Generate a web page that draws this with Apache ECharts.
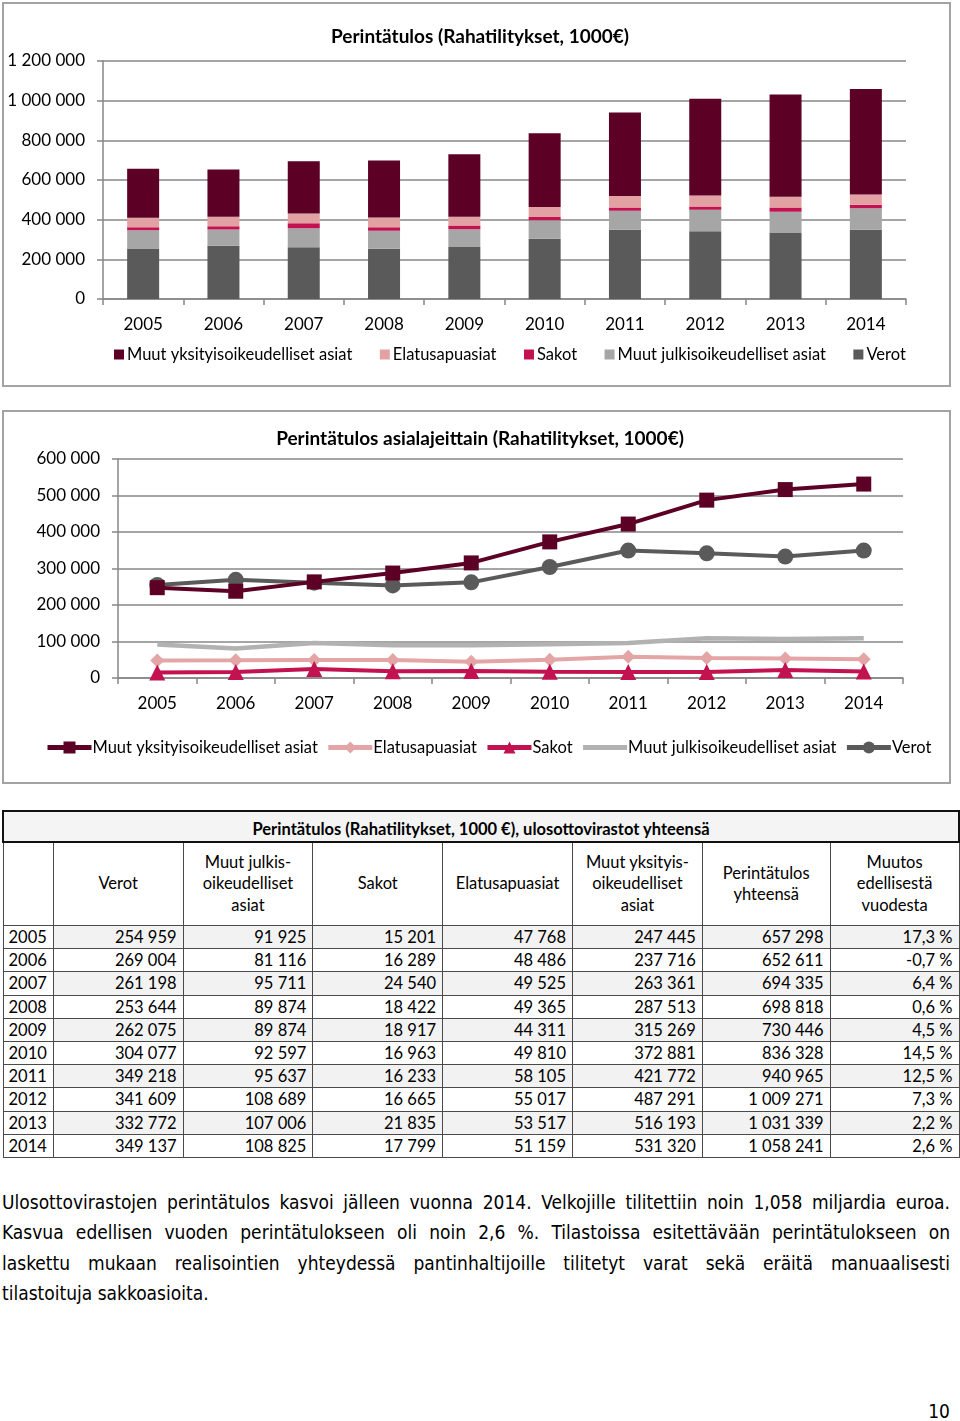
<!DOCTYPE html>
<html>
<head>
<meta charset="utf-8">
<script src="https://cdn.jsdelivr.net/npm/echarts@6/dist/echarts.min.js"></script>
<style>
  html, body { margin:0; padding:0; background:#fff; }
  body { width:960px; height:1421px; position:relative; overflow:hidden; font-family: Lato, "Open Sans", sans-serif; color:#000; }
  .box { position:absolute; border:2px solid #a3a3a3; box-sizing:border-box; }
  .chart { position:absolute; left:0; width:960px; height:400px; }
  table { position:absolute; left:2px; top:810px; border-collapse:collapse; table-layout:fixed; font-family: Lato, sans-serif; font-size:16.5px; }
  td { border:1px solid #4a4a4a; padding:0 6px; white-space:nowrap; }
  td.title { border:2px solid #111; background:#f4f4f4; font-weight:bold; text-align:center; height:24px; line-height:24px; padding:5px 0 0 0; }
  td.hdr { text-align:center; height:82px; line-height:21.5px; white-space:normal; padding:0 2px; }
  td.num { text-align:right; height:22.2px; line-height:22px; }
  td.yr { text-align:left; padding-left:5px; }
  tr.odd td.num { background:#f2f2f2; }
  .para { position:absolute; left:2px; width:948px; top:1189px; font-family:"Liberation Sans Narrow","DejaVu Sans Condensed",Lato,sans-serif; font-size:19px; }
  .para div { height:30.3px; line-height:26px; text-align:justify; text-align-last:justify; white-space:nowrap; }
  .para div.last { text-align-last:left; }
  .pnum { position:absolute; right:10px; top:1400px; font-family:"Liberation Sans Narrow","DejaVu Sans Condensed",Lato,sans-serif; font-size:19px; }
</style>
</head>
<body>
<div class="box" style="left:2px;top:2px;width:949px;height:385px;"></div>
<div class="box" style="left:2px;top:410px;width:949px;height:374px;"></div>
<div id="c1" class="chart" style="top:0px;"></div>
<div id="c2" class="chart" style="top:400px;"></div>
<table id="tbl"></table>
<div class="para">
  <div>Ulosottovirastojen perintätulos kasvoi jälleen vuonna 2014. Velkojille tilitettiin noin 1,058 miljardia euroa.</div>
  <div>Kasvua edellisen vuoden perintätulokseen oli noin 2,6 %. Tilastoissa esitettävään perintätulokseen on</div>
  <div>laskettu mukaan realisointien yhteydessä pantinhaltijoille tilitetyt varat sekä eräitä manuaalisesti</div>
  <div class="last">tilastoituja sakkoasioita.</div>
</div>
<div class="pnum">10</div>
<script>
const years = ['2005','2006','2007','2008','2009','2010','2011','2012','2013','2014'];
const verot = [254959,269004,261198,253644,262075,304077,349218,341609,332772,349137];
const muutJulkis = [91925,81116,95711,89874,89874,92597,95637,108689,107006,108825];
const sakot = [15201,16289,24540,18422,18917,16963,16233,16665,21835,17799];
const elatus = [47768,48486,49525,49365,44311,49810,58105,55017,53517,51159];
const muutYksit = [247445,237716,263361,287513,315269,372881,421772,487291,516193,531320];
const yhteensa = [657298,652611,694335,698818,730446,836328,940965,1009271,1031339,1058241];
const muutos = ['17,3 %','-0,7 %','6,4 %','0,6 %','4,5 %','14,5 %','12,5 %','7,3 %','2,2 %','2,6 %'];

const seriesNames = ['Muut yksityisoikeudelliset asiat','Elatusapuasiat','Sakot','Muut julkisoikeudelliset asiat','Verot'];
const title1 = 'Perintätulos (Rahatilitykset, 1000€)';
const title2 = 'Perintätulos asialajeittain (Rahatilitykset, 1000€)';
const tableTitle = 'Perintätulos (Rahatilitykset, 1000 €), ulosottovirastot yhteensä';
const tableHeaders = ['', 'Verot', 'Muut julkis-<br>oikeudelliset<br>asiat', 'Sakot', 'Elatusapuasiat', 'Muut yksityis-<br>oikeudelliset<br>asiat', 'Perintätulos<br>yhteensä', 'Muutos<br>edellisestä<br>vuodesta'];

const C_YKS = '#5c0026', C_ELA = '#e2a2a3', C_SAK = '#c2124f', C_JUL = '#a6a6a6', C_VER = '#5a5a5a';
const fmt = v => String(v).replace(/\B(?=(\d{3})+(?!\d))/g, ' ');
const FONT = 'Lato';
const gridCol = '#878787';

// ---------- Chart 1: stacked bars ----------
const c1 = echarts.init(document.getElementById('c1'));
const barData = {
  'Verot': verot, 'Muut julkisoikeudelliset asiat': muutJulkis, 'Sakot': sakot,
  'Elatusapuasiat': elatus, 'Muut yksityisoikeudelliset asiat': muutYksit
};
const barColors = {
  'Verot': C_VER, 'Muut julkisoikeudelliset asiat': C_JUL, 'Sakot': C_SAK,
  'Elatusapuasiat': C_ELA, 'Muut yksityisoikeudelliset asiat': C_YKS
};
const stackOrder = ['Verot','Muut julkisoikeudelliset asiat','Sakot','Elatusapuasiat','Muut yksityisoikeudelliset asiat'];
c1.setOption({
  animation:false,
  textStyle:{fontFamily:FONT},
  title:{text:title1, left:'center', top:22, textStyle:{fontFamily:FONT, fontSize:19, fontWeight:'bold', color:'#000'}},
  legend:{data:seriesNames, left:109, top:341, itemWidth:10, itemHeight:10, itemGap:27.5, icon:'rect',
          textStyle:{fontFamily:FONT, fontSize:16.5, color:'#000', padding:[0,0,0,-2]}},
  grid:{left:103, right:54, top:61, bottom:101},
  xAxis:{type:'category', data:years,
         axisLine:{lineStyle:{color:gridCol, width:1.5}},
         axisTick:{show:true, length:6, lineStyle:{color:gridCol, width:1.5}},
         axisLabel:{fontFamily:FONT, fontSize:17, color:'#000', margin:17}},
  yAxis:{type:'value', min:0, max:1200000, interval:200000,
         axisLine:{show:true, lineStyle:{color:gridCol, width:1.5}},
         axisTick:{show:true, length:6, lineStyle:{color:gridCol, width:1.5}},
         splitLine:{lineStyle:{color:gridCol, width:1.5}},
         axisLabel:{fontFamily:FONT, fontSize:17, color:'#000', margin:18, formatter:fmt}},
  series: stackOrder.map(n => ({name:n, type:'bar', stack:'t', barWidth:32, data:barData[n], itemStyle:{color:barColors[n]}}))
});

// ---------- Chart 2: lines ----------
const c2 = echarts.init(document.getElementById('c2'));
const legend2 = seriesNames.map(n => n === 'Muut julkisoikeudelliset asiat' ? {name:n, itemStyle:{opacity:0}} : n);
c2.setOption({
  animation:false,
  textStyle:{fontFamily:FONT},
  title:{text:title2, left:'center', top:24, textStyle:{fontFamily:FONT, fontSize:19, fontWeight:'bold', color:'#000'}},
  legend:{data:legend2, left:40, top:334, itemWidth:44, itemHeight:15, itemGap:8,
          lineStyle:{width:5},
          textStyle:{fontFamily:FONT, fontSize:16.5, color:'#000', padding:[0,0,0,-4]}},
  grid:{left:118, right:57, top:59, bottom:122},
  xAxis:{type:'category', data:years,
         axisLine:{lineStyle:{color:gridCol, width:1.5}},
         axisTick:{show:true, length:6, lineStyle:{color:gridCol, width:1.5}},
         axisLabel:{fontFamily:FONT, fontSize:17, color:'#000', margin:17}},
  yAxis:{type:'value', min:0, max:600000, interval:100000,
         axisLine:{show:true, lineStyle:{color:gridCol, width:1.5}},
         axisTick:{show:true, length:6, lineStyle:{color:gridCol, width:1.5}},
         splitLine:{lineStyle:{color:gridCol, width:1.5}},
         axisLabel:{fontFamily:FONT, fontSize:17, color:'#000', margin:18, formatter:fmt}},
  series:[
    {name:seriesNames[3], type:'line', data:muutJulkis, symbol:'none', lineStyle:{color:'#b2b2b2', width:4.5}, itemStyle:{color:'#b2b2b2'}, z:2},
    {name:seriesNames[4], type:'line', data:verot, symbol:'circle', symbolSize:16, lineStyle:{color:C_VER, width:4}, itemStyle:{color:C_VER}, z:3},
    {name:seriesNames[1], type:'line', data:elatus, symbol:'diamond', symbolSize:14, lineStyle:{color:'#e3a5a6', width:4}, itemStyle:{color:'#e3a5a6'}, z:4},
    {name:seriesNames[2], type:'line', data:sakot, symbol:'triangle', symbolSize:16, lineStyle:{color:C_SAK, width:4}, itemStyle:{color:C_SAK}, z:5},
    {name:seriesNames[0], type:'line', data:muutYksit, symbol:'rect', symbolSize:15, lineStyle:{color:C_YKS, width:4}, itemStyle:{color:C_YKS}, z:6}
  ]
});

// ---------- Table ----------
const colW = [48,130,130,130,130,130,128,129];
const tbl = document.getElementById('tbl');
let html = '<colgroup>' + colW.map(w => '<col style="width:' + w + 'px">').join('') + '</colgroup>';
html += '<tr><td class="title" colspan="8">' + tableTitle + '</td></tr>';
html += '<tr>' + tableHeaders.map(h => '<td class="hdr">' + h + '</td>').join('') + '</tr>';
years.forEach((y, i) => {
  const cells = [verot[i], muutJulkis[i], sakot[i], elatus[i], muutYksit[i], yhteensa[i]].map(v => '<td class="num">' + fmt(v) + '</td>').join('');
  html += '<tr class="' + (i % 2 === 0 ? 'odd' : 'even') + '"><td class="num yr" style="background:#fff">' + y + '</td>' + cells + '<td class="num">' + muutos[i] + '</td></tr>';
});
tbl.innerHTML = html;
</script>
</body>
</html>
